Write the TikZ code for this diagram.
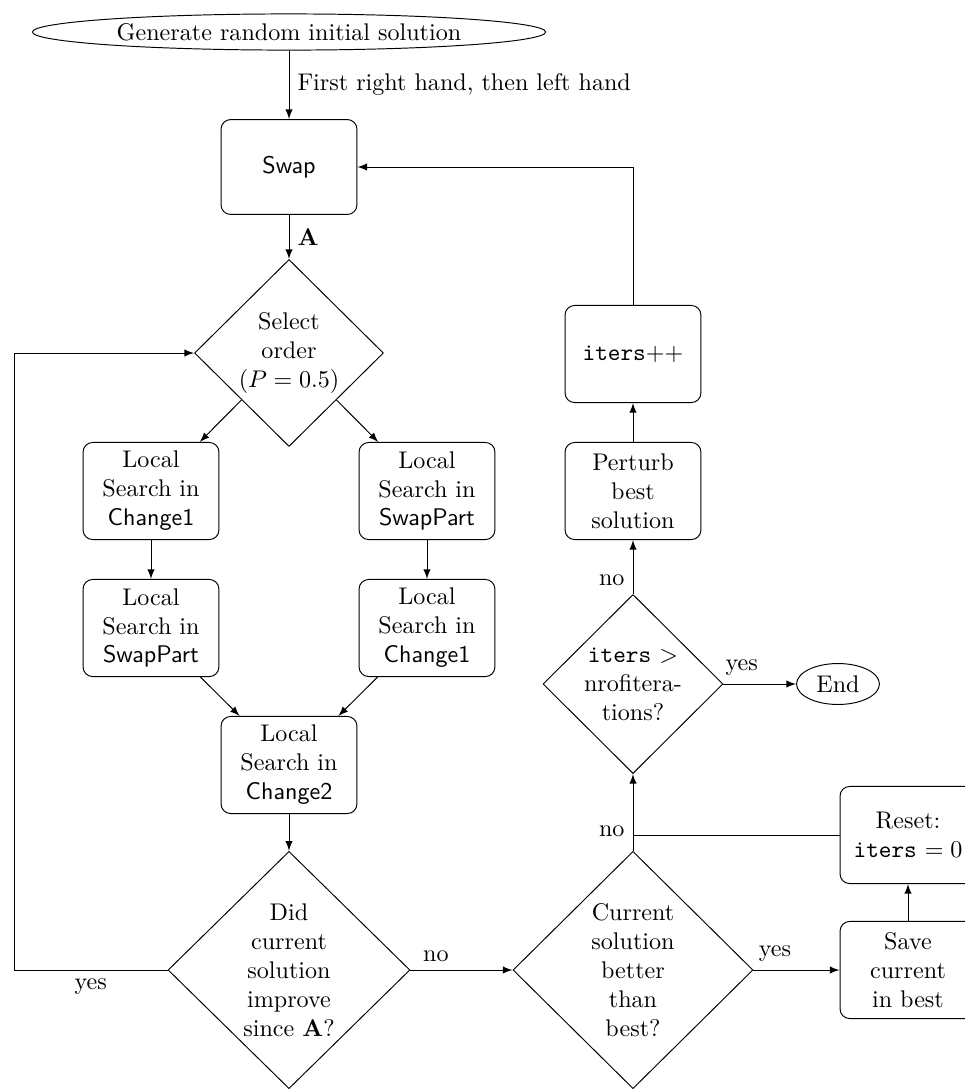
\documentclass[tikz,border=0pt]{standalone}
\usetikzlibrary{shapes,arrows,positioning,calc}

\begin{document}
\begin{tikzpicture}[x=0.415pt, y=-0.415pt,
    block/.style={rectangle, draw, rounded corners=4pt, minimum width=56.4pt, minimum height=40.3pt, align=center, inner sep=2pt},
    decision/.style={diamond, draw, align=center, inner sep=0pt},
    terminal/.style={ellipse, draw, inner sep=0pt},
    line/.style={draw, -latex}
]

\useasboundingbox (0,0) rectangle (965,1091);

% Start
\node[terminal, minimum width=213pt, minimum height=15pt] (start) at (289,32) {Generate random initial solution};

% Main column
\node[block, minimum height=39.4pt] (swap) at (289,167) {\textsf{Swap}};
\node[decision, minimum width=78.4pt, minimum height=77.6pt] (select) at (289,353) {Select\\order\\($P=0.5$)};

% Local search boxes
\node[block] (ls1) at (151,491) {Local\\Search in\\\textsf{Change1}};
\node[block] (ls2) at (427,491) {Local\\Search in\\\textsf{SwapPart}};
\node[block] (ls3) at (151,628) {Local\\Search in\\\textsf{SwapPart}};
\node[block] (ls4) at (427,628) {Local\\Search in\\\textsf{Change1}};
\node[block] (ls5) at (289,765) {Local\\Search in\\\textsf{Change2}};

% Decisions at the bottom
\node[decision, minimum width=100.4pt, minimum height=98.5pt] (improve) at (289,970) {Did\\current\\solution\\improve\\since \textbf{A}?};
\node[decision, minimum width=99.6pt, minimum height=98.5pt] (better) at (633,970) {Current\\solution\\better\\than\\best?};

% Right side
\node[block] (save) at (908,970) {Save\\current\\in best};
\node[block] (reset) at (908,835) {Reset:\\\texttt{iters} $=0$};
\node[decision, minimum width=74.7pt, minimum height=74.3pt] (check) at (633,684) {\texttt{iters} $>$\\nrofitera-\\tions?};
\node[terminal, minimum width=34.4pt, minimum height=17pt] (finish) at (838,684) {End};
\node[block] (perturb) at (633,491) {Perturb\\best\\solution};
\node[block] (incr) at (633,354) {\texttt{iters}++};

\coordinate (loopleft) at (14,970);

% Connectors
\draw[line] (start) -- node[right] {First right hand, then left hand} (swap);
\draw[line] (swap) -- node[right] {\textbf{A}} (select);
\draw[line] (select.south west) -- (ls1);
\draw[line] (select.south east) -- (ls2);
\draw[line] (ls1) -- (ls3);
\draw[line] (ls2) -- (ls4);
\draw[line] (ls3) -- (ls5);
\draw[line] (ls4) -- (ls5);
\draw[line] (ls5) -- (improve);
\draw[line] (improve.west) -- node[below] {yes} (loopleft) |- (select.west);
\draw[line] (improve.east) -- node[above, near start] {no} (better.west);
\draw[line] (better.east) -- node[above, near start] {yes} (save.west);
\draw[line] (save) -- (reset);
\draw[line] (better.north) -- node[left, near start] {no} (check.south);
\draw (reset.west) -- (reset.west -| better.north);
\draw[line] (check.east) -- node[above, near start] {yes} (finish.west);
\draw[line] (check.north) -- node[left, near start] {no} (perturb);
\draw[line] (perturb) -- (incr);
\draw[line] (incr.north) |- (swap.east);

\end{tikzpicture}
\end{document}
